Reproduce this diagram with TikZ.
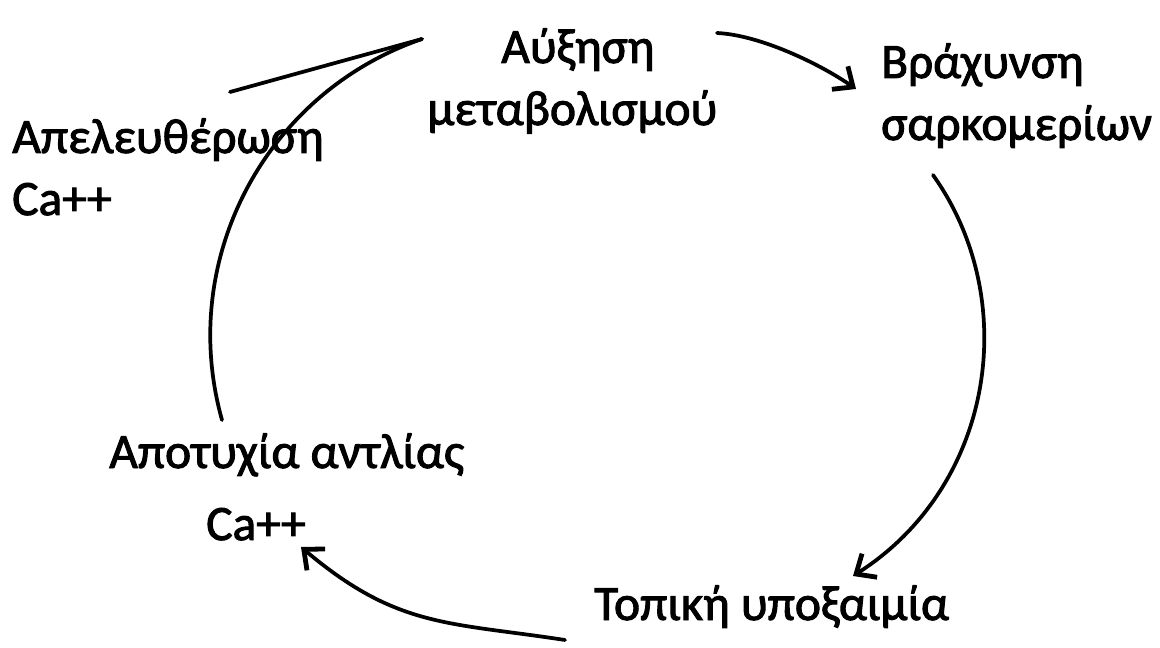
\documentclass[tikz,border=0pt]{standalone}
\usepackage{fontspec}
\setmainfont{Carlito}
\newfontfamily\lblfont[FakeBold=2]{Carlito}
\usetikzlibrary{arrows.meta}
\begin{document}
\begin{tikzpicture}[x=0.75pt,y=-0.75pt,
  lbl/.style={inner sep=0pt, anchor=base west, font=\lblfont\fontsize{37}{44}\selectfont},
  conn/.style={line width=2.8pt, line cap=round, line join=round},
  tip/.style={-{Straight Barb[length=12pt,width=21pt,line width=3.6pt]}}]
\useasboundingbox (0,0) rectangle (1160,648);
% labels
\node[lbl] (aux1) at (501,63) {Αύξηση};
\node[lbl] (aux2) at (427,125) {μεταβολισμού};
\node[lbl] (bra1) at (881,78) {Βράχυνση};
\node[lbl] (bra2) at (881,140) {σαρκομερίων};
\node[lbl] (top1) at (594,620) {Τοπική υποξαιμία};
\node[lbl] (apo1) at (109,468) {Αποτυχία αντλίας};
\node[lbl] (apo2) at (206,540) {Ca++};
\node[lbl] (ape1) at (12,153) {Απελευθέρωση};
\node[lbl] (ape2) at (12,215) {Ca++};
% connector ends
\coordinate (c1s) at (717,33);
\coordinate (c1e) at (856,89);
\coordinate (c2s) at (933,175);
\coordinate (c2e) at (853,576);
\coordinate (c3s) at (565,640);
\coordinate (c3e) at (301,547);
\coordinate (c4s) at (222,420);
\coordinate (c4e) at (422,39);
\coordinate (c5s) at (230,92);
% connectors
\draw[conn,tip] (c1s) .. controls (760,35) and (820,64) .. (c1e);
\draw[conn,tip] (c2s) .. controls (1022,300) and (994,486) .. (c2e);
\draw[conn,tip] (c3s) .. controls (448,622) and (397,628) .. (c3e);
\draw[conn] (c4s) .. controls (177,260) and (265,93) .. (c4e);
\draw[conn] (c5s) -- (c4e);
\end{tikzpicture}
\end{document}
